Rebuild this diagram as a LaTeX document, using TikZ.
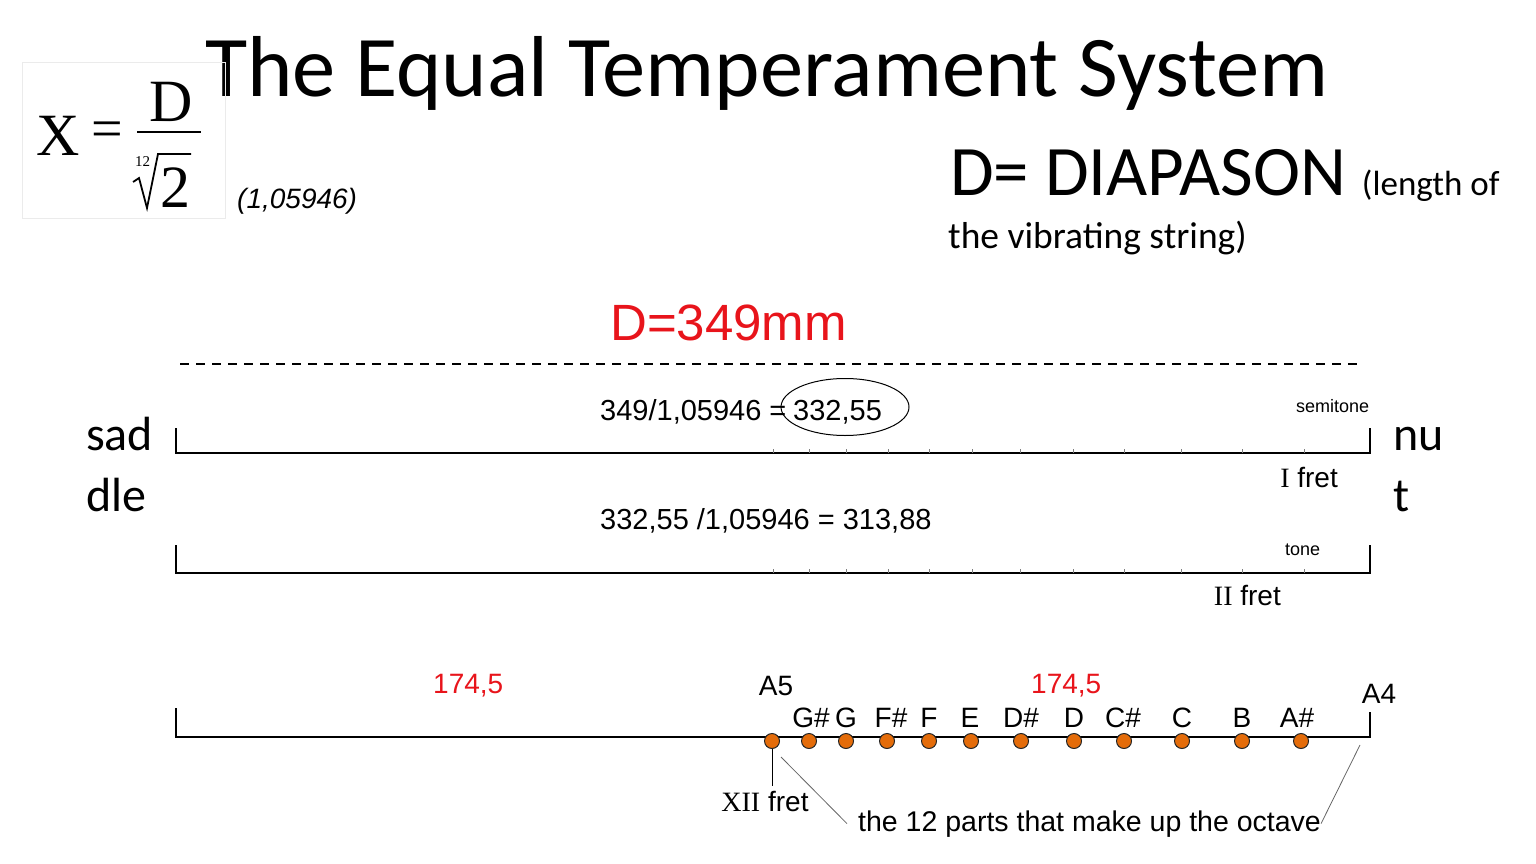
\documentclass[tikz,border=0pt]{standalone}
\usepackage{amsmath}
\usepackage{xcolor}
\usepackage{fontspec}
\setmainfont{Liberation Sans}
\newfontfamily\calibri{Carlito}
\newfontfamily\romanfont{Liberation Serif}
\usetikzlibrary{shapes,arrows,positioning}

\definecolor{dotorange}{HTML}{E46C0A}
\definecolor{numred}{HTML}{E8141B}
\newcommand{\setfs}[1]{\fontsize{#1}{#1}\selectfont}

\begin{document}
\begin{tikzpicture}[x=1pt, y=-1pt,
    txt/.style={inner sep=0pt, anchor=base west},
    fret/.style={circle, draw=black!85, fill=dotorange, line width=1pt, inner sep=0pt, minimum size=15pt},
    string/.style={line width=2.4pt},
    thin tick/.style={black!50, line width=0.7pt}]
        \useasboundingbox (0,0) rectangle (1536,864);

        % Title
        \node[inner sep=0pt, anchor=base] (title) at (767,97) {\calibri\setfs{86.5}The Equal Temperament System};

        % Formula box
        \node[draw=black!8, line width=1pt, minimum width=203pt, minimum height=155pt] (formula) at (123.5,140.5) {};
        \node[txt] (fx) at (36,155) {\romanfont\setfs{60}X};
        \node[txt] (feq) at (91,147) {\romanfont\setfs{56}=};
        \node[txt] (fd) at (149,122) {\romanfont\setfs{60}D};
        \node[txt] (ftwo) at (160,207) {\romanfont\setfs{60}2};
        \node[txt] (fidx) at (135,166) {\romanfont\setfs{15}12};
        \draw[line width=1.6pt] (137,132) -- (201,132);
        \draw[line width=1.8pt] (133,182) -- (139,178) -- (147,208) -- (158,154) -- (191,154);
        \node[txt] (ratio) at (237,208) {\setfs{28}\itshape (1,05946)};

        % Diapason
        \node[txt] (diapason) at (950,195) {\calibri\setfs{71}D= DIAPASON {\setfs{35}(length of}};
        \node[txt] (vibrating) at (948,248) {\calibri\setfs{37.5}the vibrating string)};
        \node[txt, text=numred] (length) at (610,340) {\setfs{51}D=349mm};

        % Dashed full length
        \draw[dashed, line width=1.4pt, dash pattern=on 9pt off 7pt] (180,364) -- (1362,364);

        % Saddle and nut
        \node[txt] (saddle) at (86,450) {\calibri\setfs{48}sad};
        \node[txt] (saddle2) at (86,511) {\calibri\setfs{48}dle};
        \node[txt] (nut) at (1393,450) {\calibri\setfs{48}nu};
        \node[txt] (nut2) at (1393,511) {\calibri\setfs{48}t};

        % First string: semitone
        \draw[string] (176,428) -- (176,453) -- (1370,453) -- (1370,428);
        \node[txt] (calc1) at (600,420) {\setfs{29}349/1,05946 =};
        \node[draw, ellipse, line width=1pt, minimum width=128pt, minimum height=57pt, inner sep=0pt] (ring) at (845,407) {};
        \node[txt] (res1) at (793,420) {\setfs{29}332,55};
        \node[txt] (semi) at (1296,412) {\setfs{18}semitone};
        \node[inner sep=0pt, anchor=base east] (fret1) at (1338,487) {\setfs{28}{\romanfont I} fret};

        % Second string: tone
        \draw[string] (176,545) -- (176,573) -- (1370,573) -- (1370,545);
        \node[txt] (calc2) at (600,529) {\setfs{29}332,55 /1,05946 = 313,88};
        \node[txt] (tone) at (1285,555) {\setfs{18}tone};
        \node[inner sep=0pt, anchor=base east] (fret2) at (1281,605) {\setfs{28}{\romanfont II} fret};

        % Fret ticks
        \foreach \x in {773,809,846,888,929,972,1020,1073,1124,1181,1242,1304} {
            \draw[thin tick] (\x,453) -- (\x,449);
            \draw[thin tick] (\x,573) -- (\x,569);
        }

        % Octave string
        \draw[string] (176,708) -- (176,737) -- (1370,737) -- (1370,712);
        \node[txt, text=numred] (half1) at (433,693) {\setfs{28}174,5};
        \node[txt, text=numred] (half2) at (1031,693) {\setfs{28}174,5};
        \node[inner sep=0pt, anchor=base] (a5) at (776,695) {\setfs{28}A5};
        \node[inner sep=0pt, anchor=base] (a4) at (1379,703) {\setfs{28}A4};
        \foreach \x/\lx/\n/\name in {772/772/{}/f12, 809/811/G\#/f11, 846/846/G/f10, 887/891/F\#/f9,
                                     929/929/F/f8, 971/970/E/f7, 1021/1021/D\#/f6, 1074/1074/D/f5,
                                     1124/1123/C\#/f4, 1182/1182/C/f3, 1242/1242/B/f2, 1301/1297/A\#/f1} {
            \node[fret] (\name) at (\x,741) {};
            \node[inner sep=0pt, anchor=base] (n\name) at (\lx,727) {\setfs{28}\n};
        }

        % Octave labels
        \node[inner sep=0pt, anchor=base] (xii) at (765,811) {\setfs{28}{\romanfont XII} fret};
        \node[txt] (parts) at (858,831) {\setfs{28.5}the 12 parts that make up the octave};
        \coordinate (octL) at (781,757);
        \coordinate (octR) at (1360,745);
        \draw[line width=0.8pt] (f12.south) -- (772,786);
        \draw[black!60, line width=0.8pt] (octL) -- ([xshift=-11pt]parts.west);
        \draw[black!60, line width=0.8pt] (parts.east) -- (octR);
\end{tikzpicture}
\end{document}
